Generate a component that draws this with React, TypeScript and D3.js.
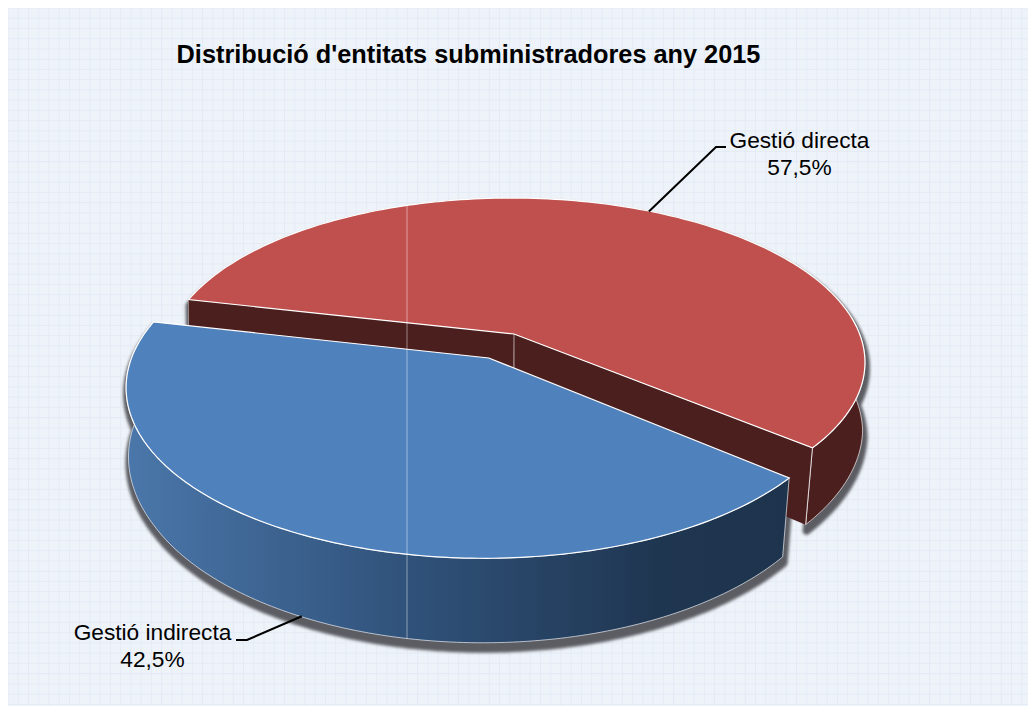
import React from "react";
import * as d3 from "d3";

const categories = ["Gestió indirecta", "Gestió directa"];
const values = [42.5, 57.5];
const valueLabels = ["42,5%", "57,5%"];
const title = "Distribució d'entitats subministradores any 2015";

const FONT = "'Liberation Sans', Arial, sans-serif";
const rad = Math.PI / 180;

// camera (perspective map from the unit disc of the pie to the screen)
const ox = 514, oy = 334, R = 345.6, A = 158.4, K = -0.165, S = 0.02;
const vanishX = 407;
const project = (u: number, v: number): [number, number] => {
  const w = 1 + K * v;
  const yr = (A * v) / w;
  return [ox + (R * u) / w + S * yr, oy + yr];
};
const converge = d3.scaleLinear().domain([360, 450]).range([0.995, 0.983]).clamp(true);
const lower = ([x, y]: [number, number]): [number, number] => [
  vanishX + (x - vanishX) * converge(y),
  y + 79 + (y - 480) * 0.07,
];

const slices = d3
  .pie<number>()
  .sort(null)
  .startAngle(130 * rad)
  .endAngle((130 + 360) * rad)(values);

const EXPLODE_U = -0.081, EXPLODE_APEX_U = -0.0726, EXPLODE_V = 0.1478;
const line = d3.line<[number, number]>();

function geom(i: number) {
  const s = slices[i];
  const a0 = s.startAngle - Math.PI / 2;
  const a1 = s.endAngle - Math.PI / 2;
  const mid = (a0 + a1) / 2;
  const cu = i === 0 ? EXPLODE_U : 0, cv = i === 0 ? EXPLODE_V : 0;
  const rim = d3
    .range(0, 161)
    .map((k) => a0 + ((a1 - a0) * k) / 160)
    .map((a) => project(cu + Math.cos(a), cv + Math.sin(a)));
  const apex = project(i === 0 ? EXPLODE_APEX_U : 0, cv);
  const midPt = project(cu + Math.cos(mid), cv + Math.sin(mid));
  return { rim, apex, midPt, mid };
}
const blue = geom(0);
const red = geom(1);

const path = (pts: [number, number][], close = false) =>
  line(pts)! + (close ? "Z" : "");

const topPath = (g: ReturnType<typeof geom>) => path([g.apex, ...g.rim], true);
const outerWall = (g: ReturnType<typeof geom>) =>
  path([...g.rim, ...g.rim.map(lower).reverse()], true);
const innerWall = (p: [number, number], q: [number, number]) =>
  path([p, q, lower(q), lower(p)], true);

const nearestY = (pts: [number, number][], x: number) =>
  d3.least(pts, (p) => Math.abs(p[0] - x))![1];

const gridStep = 10.24;
const gridX = d3.range(0, 100).map((k) => 8 + gridStep * k);
const gridY = d3.range(0, 69).map((k) => 8 + gridStep * k);

const seamX = vanishX;
const seamTop = nearestY(red.rim.filter((p) => p[1] < oy), seamX);
const seamBottom = nearestY(blue.rim.map(lower), seamX);

const redLeftCorner = red.rim[0];
const redRightCorner = red.rim[red.rim.length - 1];
const redRightLow = lower(redRightCorner);

export default function App() {
  const blueLead = lower(blue.midPt);
  const bx = blueLead[0] + 2, by = blueLead[1];
  const rx = red.midPt[0], ry = red.midPt[1];
  return (
    <svg
      width={1020}
      height={698}
      viewBox="8 8 1020 698"
      style={{ position: "absolute", left: 8, top: 8, display: "block" }}
    >
      <defs>
        <linearGradient id="blueWall" gradientUnits="userSpaceOnUse" x1={130} x2={790} y1={0} y2={0}>
          <stop offset="0" stopColor="#4a76a9" />
          <stop offset="0.42" stopColor="#30527a" />
          <stop offset="0.8" stopColor="#1f3651" />
          <stop offset="1" stopColor="#1e344d" />
        </linearGradient>
        <filter id="soft" x="-5%" y="-5%" width="110%" height="110%">
          <feGaussianBlur stdDeviation="1.6" />
        </filter>
      </defs>

      <rect x={8} y={8} width={1020} height={698} fill="#eef3f9" />
      {gridX.map((x) => (
        <line key={x} x1={x} x2={x} y1={8} y2={706} stroke="#e4ebf5" strokeWidth={1} />
      ))}
      {gridY.map((y) => (
        <line key={y} x1={8} x2={1028} y1={y} y2={y} stroke="#e4ebf5" strokeWidth={1} />
      ))}

      <g filter="url(#soft)" transform="translate(1,6)" fill="#5c5d63" stroke="#5c5d63" strokeWidth={8} strokeLinejoin="round">
        <path d={outerWall(red)} />
        <path d={outerWall(blue)} />
      </g>

      <path d={outerWall(red)} fill="#4c1f1f" stroke="#e8e0e0" strokeOpacity={0.75} strokeWidth={1} />
      <path d={innerWall(red.apex, redRightCorner)} fill="#4c1f1f" />
      <path d={innerWall(red.apex, redLeftCorner)} fill="#4c1f1f" />
      <line x1={redRightCorner[0]} y1={redRightCorner[1]} x2={redRightLow[0]} y2={redRightLow[1]} stroke="#fff" strokeOpacity={0.75} strokeWidth={1} />
      <line x1={red.apex[0]} y1={red.apex[1]} x2={red.apex[0]} y2={red.apex[1] + 60} stroke="#fff" strokeOpacity={0.55} strokeWidth={1} />
      <path d={topPath(red)} fill="#c0504d" stroke="#fff" strokeWidth={1.2} />

      <path d={outerWall(blue)} fill="url(#blueWall)" stroke="#e8edf4" strokeOpacity={0.7} strokeWidth={1} />
      <path d={topPath(blue)} fill="#4f81bd" stroke="#fff" strokeWidth={1.2} />

      <line x1={seamX} x2={seamX} y1={seamTop} y2={seamBottom} stroke="#fff" strokeOpacity={0.45} strokeWidth={1} />

      <path d={path([[rx + 3, ry + 1], [716, 147], [726, 147]])} fill="none" stroke="#000" strokeWidth={2} />
      <path d={path([[bx, by], [247, 640], [236, 640]])} fill="none" stroke="#000" strokeWidth={2} />

      <text x={468.5} y={63} textAnchor="middle" fontFamily={FONT} fontWeight={700} fontSize={25.3} fill="#000">
        {title}
      </text>
      <g fontFamily={FONT} fontSize={22.7} fill="#000" textAnchor="middle">
        <text x={799.5} y={148}>{categories[1]}</text>
        <text x={799.5} y={175}>{valueLabels[1]}</text>
        <text x={152.5} y={640}>{categories[0]}</text>
        <text x={152.5} y={667}>{valueLabels[0]}</text>
      </g>
    </svg>
  );
}
